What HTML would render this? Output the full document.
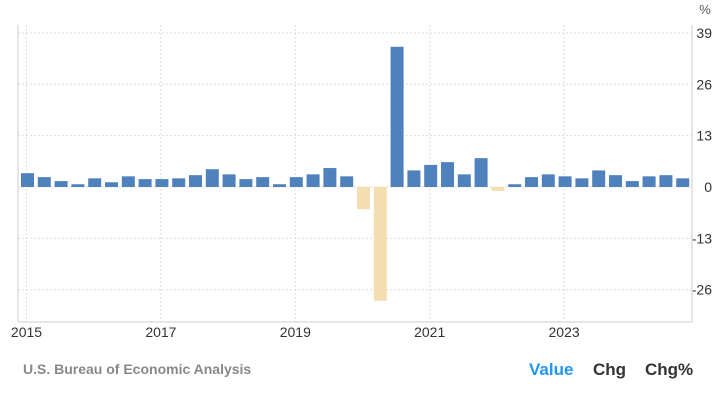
<!DOCTYPE html>
<html><head><meta charset="utf-8"><style>
body{margin:0;width:717px;height:400px;background:#fff;font-family:"Liberation Sans",sans-serif;overflow:hidden}
</style></head><body>
<svg id="c" width="717" height="400"></svg>
<script>
const years=["2015","2017","2019","2021","2023"];
const yTicks=[39,26,13,0,-13,-26];
const values=[3.5,2.5,1.5,0.7,2.2,1.2,2.7,2.0,2.0,2.2,3.0,4.5,3.2,2.0,2.5,0.7,2.5,3.2,4.8,2.7,-5.6,-28.8,35.5,4.2,5.6,6.3,3.2,7.3,-1.0,0.7,2.5,3.2,2.7,2.2,4.2,3.0,1.5,2.7,3.0,2.2];
const NS="http://www.w3.org/2000/svg",svg=document.getElementById('c');
function el(t,a,p){const e=document.createElementNS(NS,t);for(const k in a)e.setAttribute(k,a[k]);(p||svg).appendChild(e);return e;}
const y=v=>187-v*3.95;
const x=i=>27.5+i*16.8;
yTicks.forEach(t=>{
 const g=el('line',{x1:18,x2:692,y1:y(t),y2:y(t),stroke:'#ddd','stroke-dasharray':'2,2'});
 
 const l=el('text',{x:712,y:y(t)+5,'text-anchor':'end','font-size':14,fill:'#333'});l.textContent=t;
 
});
years.forEach((yr,k)=>{
 const xx=x(k*8)-1;
 const g=el('line',{x1:xx,x2:xx,y1:25,y2:322,stroke:'#ddd','stroke-dasharray':'2,2'});
 
 const l=el('text',{x:xx,y:337,'text-anchor':'middle','font-size':14,fill:'#333'});l.textContent=yr;
 
});
const a1=el('line',{x1:18,x2:18,y1:25,y2:322,stroke:'#ddd','stroke-width':1.5});
const a2=el('line',{x1:692,x2:692,y1:25,y2:322,stroke:'#ddd','stroke-width':1.5});
const a3=el('line',{x1:18,x2:692,y1:322,y2:322,stroke:'#ddd','stroke-width':1.5});
values.forEach((v,i)=>{
 const top=Math.min(y(v),y(0)),h=Math.abs(y(v)-y(0));
 const b=el('rect',{x:x(i)-6.5,y:top,width:13,height:h,fill:v<0?'#f5ddb2':'#4f81bd'});
 
});
const pc=el('text',{x:705,y:14,'text-anchor':'middle','font-size':13,fill:'#555'});pc.textContent='%';

const src=el('text',{x:23,y:374,'font-size':14,fill:'#888','font-weight':'bold'});src.textContent='U.S. Bureau of Economic Analysis';

[['Value',529,'#2196f3','value-tab'],['Chg',593,'#333','chg-tab'],['Chg%',645,'#333','chg-pct-tab']].forEach(([t,xx,c,n])=>{
 const e=el('text',{x:xx,y:375,'font-size':17,fill:c,'font-weight':'bold'});e.textContent=t;
 
});
</script>
</body></html>
